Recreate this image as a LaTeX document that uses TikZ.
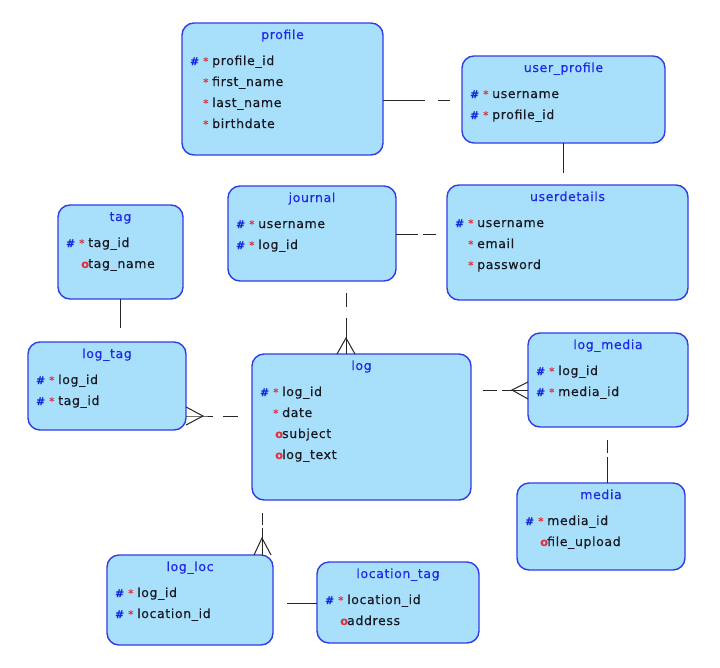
\documentclass[tikz,border=0pt]{standalone}
\usepackage{fontspec}
\newfontfamily\erdfont[LetterSpace=5,FakeBold=0.3]{DejaVu Sans}
\definecolor{boxfill}{RGB}{168,224,251}
\definecolor{boxline}{RGB}{50,60,230}
\definecolor{titleblue}{RGB}{30,40,230}
\definecolor{keyblue}{RGB}{20,40,220}
\definecolor{markred}{RGB}{225,50,60}
\definecolor{textdark}{RGB}{25,25,35}

% column markers: primary key, mandatory, optional
\newcommand\pkm{\makebox[13pt][l]{\textcolor{keyblue}{\fontsize{10.5}{11}\selectfont\bfseries\#}}\makebox[9pt][l]{\textcolor{markred}{\fontsize{10.5}{11}\selectfont *}}}
\newcommand\rqm{\makebox[13pt]{}\makebox[9pt][l]{\textcolor{markred}{\fontsize{10.5}{11}\selectfont *}}}
\newcommand\opm{\makebox[15pt]{}\makebox[7pt][l]{\textcolor{markred}{\fontsize{11.5}{12}\selectfont\bfseries o}}}

% one attribute row of an entity box
\newcommand\erow[3]{\node[rowtext] (#1-#2) at ([xshift=8pt,yshift={-42pt-21pt*(#2-1)}]#1.north west) {#3};}
% entity box with its title
\newcommand\entity[6]{%
  \node[entity,minimum width=#4pt,minimum height=#5pt] (#1) at (#2,#3) {};
  \node[titletext] (#1-t) at ([yshift=-16pt]#1.north) {#6};}

\begin{document}
\begin{tikzpicture}[x=1pt,y=-1pt,
  entity/.style={draw=boxline,fill=boxfill,line width=1.4pt,rounded corners=12pt,
    anchor=north west,inner sep=0pt,outer sep=0pt},
  titletext/.style={anchor=base,inner sep=0pt,text=titleblue,font=\erdfont\fontsize{12.5}{13}\selectfont},
  rowtext/.style={anchor=base west,inner sep=0pt,text=textdark,font=\erdfont\fontsize{12.5}{13}\selectfont},
  rel/.style={line width=1pt,draw=black!85}]

\useasboundingbox[fill=white] (0,0) rectangle (720,667);

% entities
\entity{profile}{182}{23}{201}{132}{profile}
\erow{profile}{1}{\pkm profile\_id}
\erow{profile}{2}{\rqm first\_name}
\erow{profile}{3}{\rqm last\_name}
\erow{profile}{4}{\rqm birthdate}

\entity{userprofile}{462}{56}{203}{87}{user\_profile}
\erow{userprofile}{1}{\pkm username}
\erow{userprofile}{2}{\pkm profile\_id}

\entity{userdetails}{447}{185}{241}{115}{userdetails}
\erow{userdetails}{1}{\pkm username}
\erow{userdetails}{2}{\rqm email}
\erow{userdetails}{3}{\rqm password}

\entity{journal}{228}{186}{168}{95}{journal}
\erow{journal}{1}{\pkm username}
\erow{journal}{2}{\pkm log\_id}

\entity{tag}{58}{205}{125}{94}{tag}
\erow{tag}{1}{\pkm tag\_id}
\erow{tag}{2}{\opm tag\_name}

\entity{logtag}{28}{342}{158}{88}{log\_tag}
\erow{logtag}{1}{\pkm log\_id}
\erow{logtag}{2}{\pkm tag\_id}

\entity{log}{252}{354}{219}{146}{log}
\erow{log}{1}{\pkm log\_id}
\erow{log}{2}{\rqm date}
\erow{log}{3}{\opm subject}
\erow{log}{4}{\opm log\_text}

\entity{logmedia}{528}{333}{160}{94}{log\_media}
\erow{logmedia}{1}{\pkm log\_id}
\erow{logmedia}{2}{\pkm media\_id}

\entity{media}{517}{483}{168}{87}{media}
\erow{media}{1}{\pkm media\_id}
\erow{media}{2}{\opm file\_upload}

\entity{logloc}{107}{555}{166}{90}{log\_loc}
\erow{logloc}{1}{\pkm log\_id}
\erow{logloc}{2}{\pkm location\_id}

\entity{locationtag}{317}{562}{162}{81}{location\_tag}
\erow{locationtag}{1}{\pkm location\_id}
\erow{locationtag}{2}{\opm address}

% profile -- user_profile
\draw[rel] (profile.east |- 0,100) -- ++(42,0);
\draw[rel] (userprofile.west |- 0,100) ++(-24,0) -- ++(12,0);

% user_profile -- userdetails
\draw[rel] (userprofile.south) -- ++(0,30);

% journal -- userdetails
\draw[rel] (journal.east |- 0,234) -- ++(22,0);
\draw[rel] (userdetails.west |- 0,234) ++(-24,0) -- ++(13,0);

% tag -- log_tag
\draw[rel] (tag.south) -- ++(0,29);

% log_tag >-- log
\coordinate (lt-apex) at (203,416);
\draw[rel] (logtag.east |- 0,407) -- (lt-apex) -- (logtag.east |- 0,425);
\draw[rel] (logtag.east |- 0,416) -- (lt-apex) -- ++(10,0);
\draw[rel] (log.west |- 0,416) ++(-29,0) -- ++(15,0);

% journal --< log
\coordinate (jl-apex) at (346,338);
\draw[rel] (journal.south -| 346,0) ++(0,12) -- ++(0,14);
\draw[rel] (jl-apex) ++(0,-20) -- (jl-apex);
\draw[rel] (log.north -| 337,0) -- (jl-apex) -- (log.north -| 355,0);
\draw[rel] (log.north -| 346,0) -- (jl-apex);

% log --< log_media
\coordinate (lm-apex) at (512,390);
\draw[rel] (log.east |- 0,390) ++(12,0) -- ++(14,0);
\draw[rel] (lm-apex) ++(-10,0) -- (lm-apex);
\draw[rel] (logmedia.west |- 0,382) -- (lm-apex) -- (logmedia.west |- 0,399);
\draw[rel] (logmedia.west |- 0,390) -- (lm-apex);

% log_media -- media
\draw[rel] (logmedia.south -| 607,0) ++(0,13) -- ++(0,13);
\draw[rel] (media.north -| 607,0) -- ++(0,-26);

% log --< log_loc
\coordinate (ll-apex) at (262,538);
\draw[rel] (log.south -| 262,0) ++(0,13) -- ++(0,12);
\draw[rel] (ll-apex) ++(0,-10) -- (ll-apex);
\draw[rel] (logloc.north -| 254,0) -- (ll-apex) -- (logloc.north -| 271,0);
\draw[rel] (logloc.north -| 262,0) -- (ll-apex);

% log_loc -- location_tag
\draw[rel] (locationtag.west |- 0,603) -- ++(-30,0);

\end{tikzpicture}
\end{document}
